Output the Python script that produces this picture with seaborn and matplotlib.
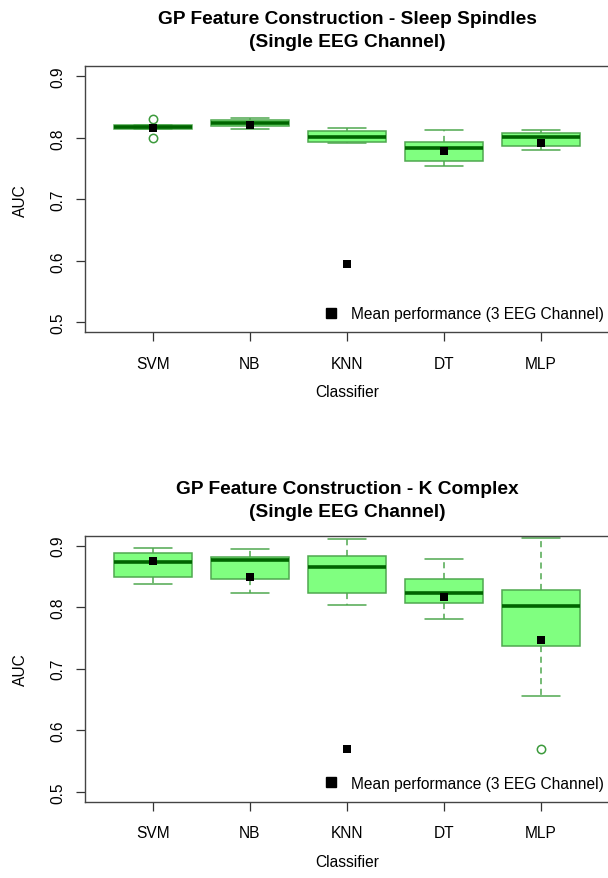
import matplotlib
matplotlib.use("Agg")
import matplotlib.pyplot as plt
from matplotlib.lines import Line2D
import seaborn as sns
import pandas as pd

classifiers = ["SVM", "NB", "KNN", "DT", "MLP"]

# sleep spindles, single EEG channel - AUC of the runs
ss_svm = [0.7995, 0.8140, 0.8150, 0.8165, 0.8173, 0.8190, 0.8200, 0.8210, 0.8300]
ss_nb = [0.8135, 0.8184, 0.8238, 0.8286, 0.8320]
ss_knn = [0.7908, 0.7924, 0.8010, 0.8114, 0.8157]
ss_dt = [0.7535, 0.7616, 0.7827, 0.7924, 0.8124]
ss_mlp = [0.7795, 0.7860, 0.8005, 0.8080, 0.8124]
ss_mean_3ch = [0.816, 0.820, 0.595, 0.779, 0.792]

# k complex, single EEG channel
kc_svm = [0.8368, 0.8497, 0.8735, 0.8876, 0.8957]
kc_nb = [0.8227, 0.8449, 0.8768, 0.8820, 0.8951]
kc_knn = [0.8038, 0.8222, 0.8654, 0.8838, 0.9110]
kc_dt = [0.7805, 0.8070, 0.8227, 0.8465, 0.8778]
kc_mlp = [0.5692, 0.6562, 0.7362, 0.7700, 0.8020, 0.8150, 0.8286, 0.8700, 0.9124]
kc_mean_3ch = [0.875, 0.849, 0.569, 0.816, 0.746]

FILL = "#80ff80"
EDGE = "#4fa84f"
MEDIAN = "#006400"
FS = 11.2


def long_form(runs):
    rows = []
    for name, vals in zip(classifiers, runs):
        for v in vals:
            rows.append({"Classifier": name, "AUC": v})
    return pd.DataFrame(rows)


def draw_panel(ax, runs, means, title):
    df = long_form(runs)
    sns.boxplot(data=df, x="Classifier", y="AUC", order=classifiers, ax=ax,
                width=0.8, color=FILL, saturation=1, linecolor=EDGE, linewidth=1.1,
                medianprops=dict(color=MEDIAN, linewidth=2.6),
                whiskerprops=dict(linestyle=(0, (4, 3))),
                flierprops=dict(marker="o", markerfacecolor="none",
                                markeredgecolor="#3c9a3c", markersize=6, markeredgewidth=1.1))
    sns.stripplot(x=classifiers, y=means, order=classifiers, ax=ax, jitter=False,
                  marker="s", color="black", size=5.5, zorder=5)

    ax.set_xlim(-0.7, 4.7)
    ax.set_ylim(0.484, 0.916)
    ax.set_yticks([0.5, 0.6, 0.7, 0.8, 0.9])
    ax.set_yticklabels(["0.5", "0.6", "0.7", "0.8", "0.9"], rotation=90, va="center")
    ax.tick_params(axis="both", left=True, bottom=True, length=6.5, width=0.9,
                   color="#333333", labelcolor="black", labelsize=FS)
    ax.tick_params(axis="y", pad=7.5)
    ax.tick_params(axis="x", pad=10.5)
    for s in ax.spines.values():
        s.set_visible(True)
        s.set_color("#444444")
        s.set_linewidth(1.0)

    ax.set_xlabel("Classifier", fontsize=FS, color="black")
    ax.set_ylabel("AUC", fontsize=FS, color="black")
    ax.xaxis.set_label_coords(0.5, -0.195)
    ax.yaxis.set_label_coords(-0.108, 0.5)
    ax.set_title(title, fontweight="bold", fontsize=13.8, linespacing=1.45, pad=14.5,
                 color="black")

    handle = Line2D([0], [0], marker="s", color="black", linestyle="", markersize=7.5)
    ax.legend(handles=[handle], labels=["Mean performance (3 EEG Channel)"],
              loc="lower right", bbox_to_anchor=(1.012, 0.0), borderaxespad=0.3,
              frameon=False, fontsize=FS, handlelength=1, handletextpad=0.8,
              labelcolor="black")


sns.set_style("white")
plt.rcParams["font.family"] = ["Liberation Sans", "DejaVu Sans"]

fig = plt.figure(figsize=(6.08, 8.79), dpi=100)
ax1 = fig.add_axes([0.1398, 0.6208, 0.8618, 0.3026])
ax2 = fig.add_axes([0.1398, 0.0868, 0.8618, 0.3026])

draw_panel(ax1, [ss_svm, ss_nb, ss_knn, ss_dt, ss_mlp], ss_mean_3ch,
           "GP Feature Construction - Sleep Spindles\n(Single EEG Channel)")
draw_panel(ax2, [kc_svm, kc_nb, kc_knn, kc_dt, kc_mlp], kc_mean_3ch,
           "GP Feature Construction - K Complex\n(Single EEG Channel)")

fig.savefig("out.png", dpi=100)
